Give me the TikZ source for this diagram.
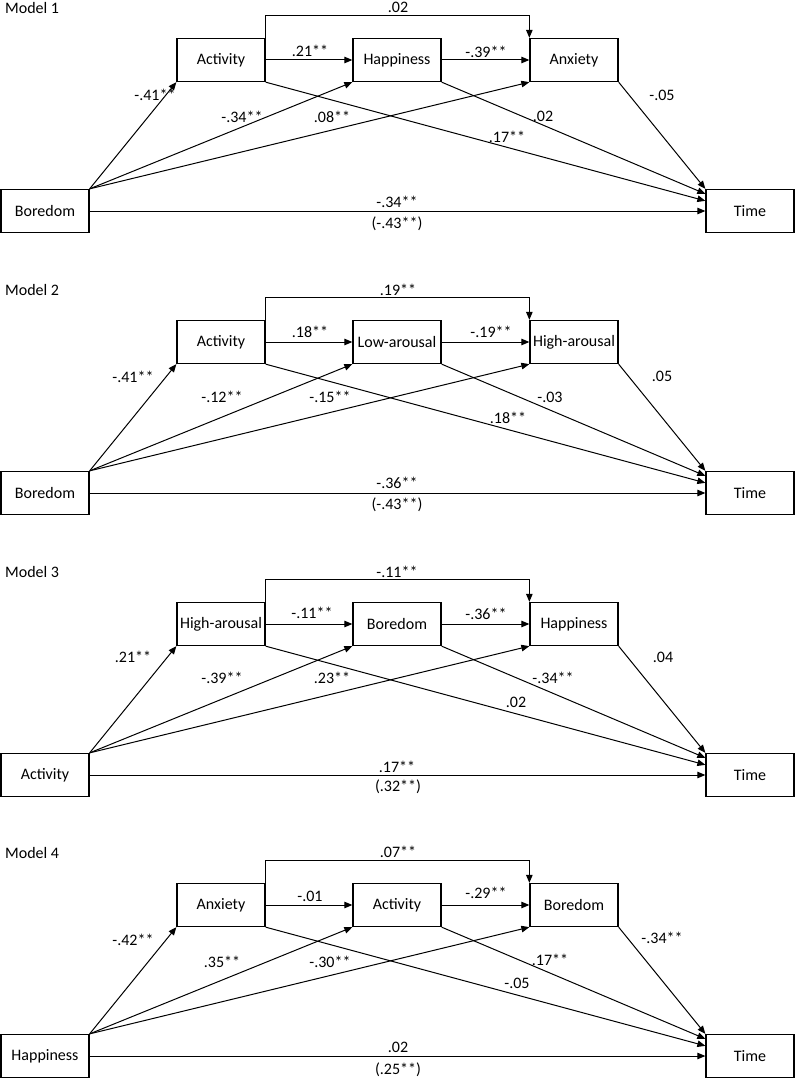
\documentclass[tikz,border=0pt]{standalone}
\usepackage{fontspec}
\setmainfont{Carlito}
\usetikzlibrary{arrows.meta}
\tikzset{every node/.style={font=\fontsize{16}{19}\selectfont},
    box/.style={draw, line width=1.3pt, minimum width=88pt, minimum height=43pt, inner sep=1pt},
    arr/.style={-{Triangle[length=8pt,width=6.5pt]}, line width=1pt},
    lbl/.style={inner sep=0pt},
    }

\begin{document}
\begin{tikzpicture}[x=1pt, y=-1pt]
	\useasboundingbox (0,0) rectangle (796,1081);
	% Model 1
	\begin{scope}
	\node[lbl, anchor=west] (mod1) at (5,8) {Model 1};
	\node[box] (bor1) at (45,211) {Boredom};
	\node[box] (act1) at (221,60) {Activity};
	\node[box] (hap1) at (397,60) {Happiness};
	\node[box] (anx1) at (574,60) {Anxiety};
	\node[box] (time1) at (750,211) {Time};
	\draw[arr] (bor1.north east) -- (act1.south west);
	\draw[arr] (bor1.north east) -- (hap1.south west);
	\draw[arr] (bor1.north east) -- (anx1.south west);
	\draw[arr] (act1) -- (hap1);
	\draw[arr] (hap1) -- (anx1);
	\draw[arr] (act1.north east) -- ++(0,-22) -| (anx1.north west);
	\draw[arr] (act1.south east) -- ([yshift=-12pt]time1.north west);
	\draw[arr] (hap1.south east) -- ([yshift=-5pt]time1.north west);
	\draw[arr] (anx1.south east) -- (time1.north west);
	\draw[arr] (bor1) -- (time1);
	\node[lbl] (t1) at (398,7) {.02};
	\node[lbl] (ba1) at (155,95) {-.41**};
	\node[lbl] (bh1) at (242,117) {-.34**};
	\node[lbl] (bx1) at (332,117) {.08**};
	\node[lbl] (ah1) at (310,51) {.21**};
	\node[lbl] (hx1) at (486,52) {-.39**};
	\node[lbl] (xt1) at (662,95) {-.05};
	\node[lbl] (ht1) at (543,116) {.02};
	\node[lbl] (at1) at (507,137) {.17**};
	\node[lbl] (bt1) at (397,202) {-.34**};
	\node[lbl] (tot1) at (397,224) {(-.43**)};
	\end{scope}
	% Model 2
	\begin{scope}[yshift=-282pt]
	\node[lbl, anchor=west] (mod2) at (5,8) {Model 2};
	\node[box] (bor2) at (45,211) {Boredom};
	\node[box] (act2) at (221,60) {Activity};
	\node[box] (low2) at (397,60) {Low-arousal};
	\node[box] (high2) at (574,60) {High-arousal};
	\node[box] (time2) at (750,211) {Time};
	\draw[arr] (bor2.north east) -- (act2.south west);
	\draw[arr] (bor2.north east) -- (low2.south west);
	\draw[arr] (bor2.north east) -- (high2.south west);
	\draw[arr] (act2) -- (low2);
	\draw[arr] (low2) -- (high2);
	\draw[arr] (act2.north east) -- ++(0,-22) -| (high2.north west);
	\draw[arr] (act2.south east) -- ([yshift=-12pt]time2.north west);
	\draw[arr] (low2.south east) -- ([yshift=-5pt]time2.north west);
	\draw[arr] (high2.south east) -- (time2.north west);
	\draw[arr] (bor2) -- (time2);
	\node[lbl] (t2) at (398,8) {.19**};
	\node[lbl] (ba2) at (133,95) {-.41**};
	\node[lbl] (bl2) at (222,115) {-.12**};
	\node[lbl] (bh2) at (330,115) {-.15**};
	\node[lbl] (al2) at (310,50) {.18**};
	\node[lbl] (lh2) at (491,50) {-.19**};
	\node[lbl] (ht2) at (662,94) {.05};
	\node[lbl] (lt2) at (550,115) {-.03};
	\node[lbl] (at2) at (508,136) {.18**};
	\node[lbl] (bt2) at (397,201) {-.36**};
	\node[lbl] (tot2) at (397,223) {(-.43**)};
	\end{scope}
	% Model 3
	\begin{scope}[yshift=-564pt]
	\node[lbl, anchor=west] (mod3) at (5,8) {Model 3};
	\node[box] (act3) at (45,211) {Activity};
	\node[box] (high3) at (221,60) {High-arousal};
	\node[box] (bor3) at (397,60) {Boredom};
	\node[box] (hap3) at (574,60) {Happiness};
	\node[box] (time3) at (750,211) {Time};
	\draw[arr] (act3.north east) -- (high3.south west);
	\draw[arr] (act3.north east) -- (bor3.south west);
	\draw[arr] (act3.north east) -- (hap3.south west);
	\draw[arr] (high3) -- (bor3);
	\draw[arr] (bor3) -- (hap3);
	\draw[arr] (high3.north east) -- ++(0,-22) -| (hap3.north west);
	\draw[arr] (high3.south east) -- ([yshift=-12pt]time3.north west);
	\draw[arr] (bor3.south east) -- ([yshift=-5pt]time3.north west);
	\draw[arr] (hap3.south east) -- (time3.north west);
	\draw[arr] (act3) -- (time3);
	\node[lbl] (t3) at (397,8) {-.11**};
	\node[lbl] (ah3) at (133,93) {.21**};
	\node[lbl] (ab3) at (222,114) {-.39**};
	\node[lbl] (ap3) at (332,114) {.23**};
	\node[lbl] (hb3) at (312,49) {-.11**};
	\node[lbl] (bp3) at (486,50) {-.36**};
	\node[lbl] (pt3) at (663,93) {.04};
	\node[lbl] (bt3) at (553,114) {-.34**};
	\node[lbl] (ht3) at (516,138) {.02};
	\node[lbl] (at3) at (397,203) {.17**};
	\node[lbl] (tot3) at (398,223) {(.32**)};
	\end{scope}
	% Model 4
	\begin{scope}[yshift=-845pt]
	\node[lbl, anchor=west] (mod4) at (5,8) {Model 4};
	\node[box] (hap4) at (45,211) {Happiness};
	\node[box] (anx4) at (221,60) {Anxiety};
	\node[box] (act4) at (397,60) {Activity};
	\node[box] (bor4) at (574,60) {Boredom};
	\node[box] (time4) at (750,211) {Time};
	\draw[arr] (hap4.north east) -- (anx4.south west);
	\draw[arr] (hap4.north east) -- (act4.south west);
	\draw[arr] (hap4.north east) -- (bor4.south west);
	\draw[arr] (anx4) -- (act4);
	\draw[arr] (act4) -- (bor4);
	\draw[arr] (anx4.north east) -- ++(0,-22) -| (bor4.north west);
	\draw[arr] (anx4.south east) -- ([yshift=-12pt]time4.north west);
	\draw[arr] (act4.south east) -- ([yshift=-5pt]time4.north west);
	\draw[arr] (bor4.south east) -- (time4.north west);
	\draw[arr] (hap4) -- (time4);
	\node[lbl] (t4) at (398,7) {.07**};
	\node[lbl] (hx4) at (133,95) {-.42**};
	\node[lbl] (ha4) at (222,117) {.35**};
	\node[lbl] (hb4) at (330,117) {-.30**};
	\node[lbl] (xa4) at (310,51) {-.01};
	\node[lbl] (ab4) at (486,48) {-.29**};
	\node[lbl] (bt4) at (662,93) {-.34**};
	\node[lbl] (at4) at (550,115) {.17**};
	\node[lbl] (xt4) at (517,138) {-.05};
	\node[lbl] (ht4) at (398,202) {.02};
	\node[lbl] (tot4) at (398,225) {(.25**)};
	\end{scope}
\end{tikzpicture}
\end{document}
